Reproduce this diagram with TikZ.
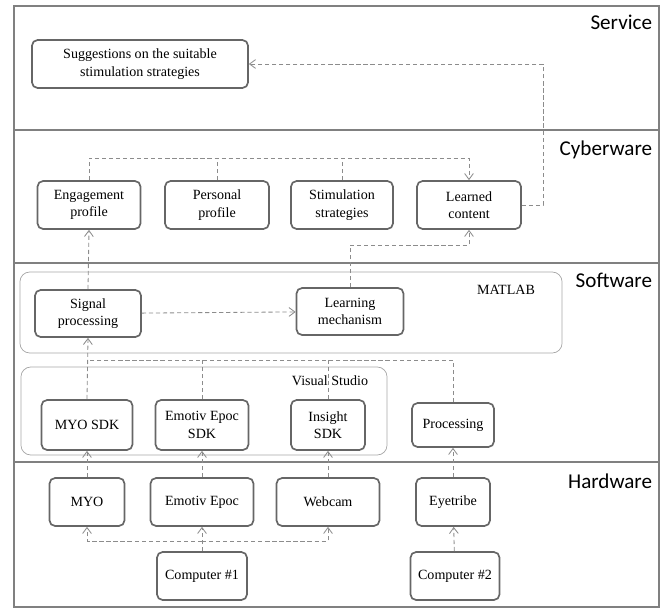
\documentclass[tikz,border=0pt]{standalone}
\usepackage{fontspec}
\setmainfont{Liberation Serif}
\newfontfamily\layerfont{Carlito}
\usetikzlibrary{calc}
\usetikzlibrary{arrows.meta}
\tikzset{>={Straight Barb[length=1.5mm,width=2.2mm]}}

\begin{document}
\begin{tikzpicture}[x=0.025cm,y=-0.025cm,
	box/.style={draw=black!60,line width=1.2pt,rounded corners=4pt,align=center,font=\rmfamily\fontsize{10}{12.5}\selectfont,minimum height=1.2cm},
	group/.style={draw=black!35,line width=0.5pt,rounded corners=7pt},
	link/.style={draw=black!45,dash pattern=on 3pt off 2pt,line width=0.6pt},
	layer/.style={anchor=east,font=\layerfont\fontsize{15}{18}\selectfont},
	tag/.style={font=\rmfamily\fontsize{10}{12}\selectfont}]
	\useasboundingbox (0,0) rectangle (669,610);
	% layers
	\draw[black!50,line width=1.2pt] (14,6) rectangle (659,607);
	\draw[black!50,line width=1.2pt] (14,130) -- (659,130) (14,263) -- (659,263) (14,462) -- (659,462);
	\node[layer] (service) at (657,22) {Service};
	\node[layer] (cyber) at (657,150) {Cyberware};
	\node[layer] (soft) at (657,280) {Software};
	\node[layer] (hard) at (657,481) {Hardware};
	% containers
	\node[group,minimum width=13.55cm,minimum height=2.025cm] (matlab) at (291,312.5) {};
	\node[tag] (matlabtag) at (506,290) {MATLAB};
	\node[group,minimum width=9.15cm,minimum height=2.2cm] (vstudio) at (204,411) {};
	\node[tag] (vstag) at (330,381) {Visual Studio};
	% service
	\node[box,minimum width=5.4cm] (sugg) at (140,64) {Suggestions on the suitable\\stimulation strategies};
	% cyberware
	\node[box,minimum width=2.575cm] (eng) at (89,205) {Engagement\\profile};
	\node[box,minimum width=2.6cm] (pers) at (217,205) {Personal\\profile};
	\node[box,minimum width=2.55cm] (stim) at (342,205) {Stimulation\\strategies};
	\node[box,minimum width=2.6cm] (learned) at (469,205) {Learned\\content};
	% software
	\node[box,minimum width=2.65cm,minimum height=1.175cm] (sig) at (88,313.5) {Signal\\processing};
	\node[box,minimum width=2.675cm,minimum height=1.175cm] (learn) at (350,311.5) {Learning\\mechanism};
	\node[box,minimum width=2.275cm,minimum height=1.25cm] (myosdk) at (87,425) {MYO SDK};
	\node[box,minimum width=2.325cm,minimum height=1.25cm] (emosdk) at (202,425) {Emotiv Epoc\\SDK};
	\node[box,minimum width=1.85cm,minimum height=1.25cm] (insight) at (328,425) {Insight\\SDK};
	\node[box,minimum width=2.05cm,minimum height=1.1cm] (proc) at (453,425) {Processing};
	% hardware
	\node[box,minimum width=1.875cm] (myo) at (87,502) {MYO};
	\node[box,minimum width=2.575cm] (emotiv) at (202,502) {Emotiv Epoc};
	\node[box,minimum width=2.575cm] (webcam) at (328,502) {Webcam};
	\node[box,minimum width=1.85cm] (eyetribe) at (453,502) {Eyetribe};
	\node[box,minimum width=2.25cm] (comp1) at (202,576) {Computer \#1};
	\node[box,minimum width=2.225cm] (comp2) at (455,576) {Computer \#2};
	% buses
	\coordinate (hwbus) at (0,541);
	\coordinate (swbus) at (0,360);
	\coordinate (mlbus) at (0,245);
	\coordinate (cybus) at (0,158);
	\coordinate (rtbus) at (543,0);
	% links
	\draw[link,->] (comp1) -- (emotiv);
	\draw[link,->] (comp1.north |- hwbus) -| (myo.south);
	\draw[link,->] (comp1.north |- hwbus) -| (webcam.south);
	\draw[link,->] (comp2) -- (eyetribe);
	\draw[link,->] (myo) -- (myosdk);
	\draw[link,->] (emotiv) -- (emosdk);
	\draw[link,->] (webcam) -- (insight);
	\draw[link,->] (eyetribe) -- (proc);
	\draw[link,->] (myosdk.north) -- (sig.south);
	\draw[link] (proc.north) |- (sig.south |- swbus);
	\draw[link] (emosdk.north) -- (emosdk.north |- swbus);
	\draw[link] (insight.north) -- (insight.north |- swbus);
	\draw[link,->] (sig) -- (learn);
	\draw[link,->] (sig.north) -- (eng.south);
	\draw[link,->] (learn.north) -- (learn.north |- mlbus) -| (learned.south);
	\draw[link,->] (eng.north) -- (eng.north |- cybus) -| (learned.north);
	\draw[link] (pers.north) -- (pers.north |- cybus);
	\draw[link] (stim.north) -- (stim.north |- cybus);
	\draw[link,->] (learned.east) -- (learned.east -| rtbus) -- (rtbus |- sugg.east) -- (sugg.east);
\end{tikzpicture}
\end{document}
